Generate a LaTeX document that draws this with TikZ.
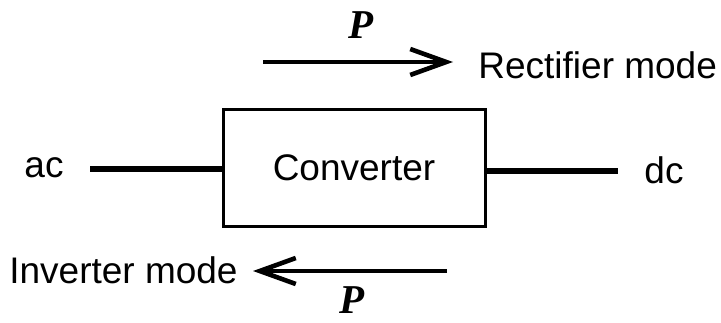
\documentclass[tikz,border=0pt]{standalone}
\usepackage{fontspec}
\setmainfont{Liberation Sans}
\newfontfamily\pfont{Liberation Serif}
\usetikzlibrary{arrows.meta}

\begin{document}
\begin{tikzpicture}[x=0.5pt, y=-0.5pt,
    lbl/.style={font=\fontsize{18.5}{22}\selectfont, inner sep=0pt},
    powr/.style={font=\pfont\bfseries\itshape\fontsize{20.5}{24}\selectfont, inner sep=0pt},
    blockbox/.style={draw, line width=1.5pt, minimum width=131pt, minimum height=58.5pt,
                     inner sep=0pt, font=\fontsize{18.5}{22}\selectfont},
    wire/.style={line width=2.6pt},
    flow/.style={line width=2.2pt, -{Straight Barb[length=18pt, width=13pt, line width=2.3pt]}}]
  \useasboundingbox (0,0) rectangle (721,322);

  % converter block
  \node[blockbox] (conv) at (354,167.5) {Converter};

  % terminals
  \node[lbl] (ac) at (44,168) {ac};
  \node[lbl] (dc) at (664,170) {dc};
  \coordinate (acend) at (90,169);
  \coordinate (dcend) at (618,171);
  \draw[wire] (acend) -- (acend -| conv.west);
  \draw[wire] (conv.east |- dcend) -- (dcend);

  % power flow, rectifier mode
  \coordinate (rs) at (263,62);
  \coordinate (re) at (453,62);
  \draw[flow] (rs) -- (re);
  \node[powr] (p1) at (361,25) {P};
  \node[lbl, anchor=west] (rect) at (478,65) {Rectifier mode};

  % power flow, inverter mode
  \coordinate (is) at (447,271);
  \coordinate (ie) at (253,271);
  \draw[flow] (is) -- (ie);
  \node[powr] (p2) at (352,300) {P};
  \node[lbl, anchor=east] (inv) at (238,270) {Inverter mode};
\end{tikzpicture}
\end{document}
